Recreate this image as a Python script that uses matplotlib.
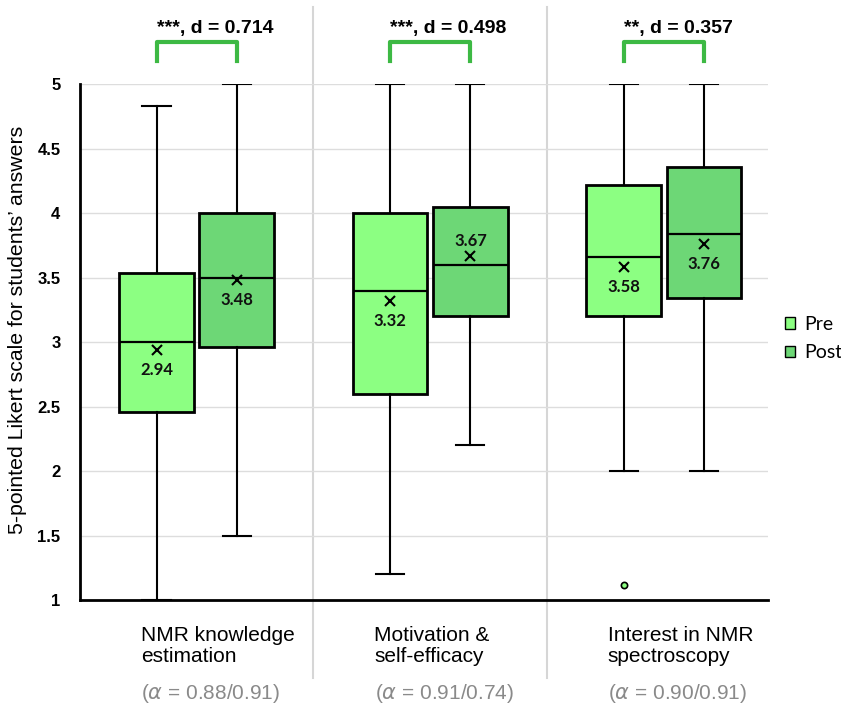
import matplotlib
matplotlib.use("Agg")
import matplotlib.pyplot as plt
from matplotlib.patches import Patch

# values
categories = ["NMR knowledge\nestimation", "Motivation &\nself-efficacy", "Interest in NMR\nspectroscopy"]
alphas = ["0.88/0.91", "0.91/0.74", "0.90/0.91"]
effects = ["***, d = 0.714", "***, d = 0.498", "**, d = 0.357"]

pre_low = [1.0, 1.2, 2.0]
pre_q1 = [2.46, 2.60, 3.20]
pre_med = [3.00, 3.40, 3.66]
pre_q3 = [3.54, 4.00, 4.22]
pre_high = [4.83, 5.0, 5.0]
pre_mean = [2.94, 3.32, 3.58]
pre_fliers = [[], [], [1.12]]

post_low = [1.5, 2.2, 2.0]
post_q1 = [2.96, 3.20, 3.34]
post_med = [3.50, 3.60, 3.84]
post_q3 = [4.00, 4.05, 4.36]
post_high = [5.0, 5.0, 5.0]
post_mean = [3.48, 3.67, 3.76]
post_fliers = [[], [], []]

pre_color = "#8cff82"
post_color = "#6dd776"
bracket_color = "#3db944"

sans = ["Liberation Sans", "DejaVu Sans"]


def make_stats(low, q1, med, q3, high, mean, fliers):
    return [dict(whislo=low[i], q1=q1[i], med=med[i], q3=q3[i], whishi=high[i],
                 mean=mean[i], fliers=fliers[i]) for i in range(len(low))]


fig = plt.figure(figsize=(8.41, 7.07), dpi=100)
ax = fig.add_axes([0.095, 0.151, 0.818, 0.73])

offset = 0.172
width = 0.32
# mean labels sit below the marker, except Post / Motivation (above)
groups = [
    (make_stats(pre_low, pre_q1, pre_med, pre_q3, pre_high, pre_mean, pre_fliers), -offset, pre_color,
     [False, False, False]),
    (make_stats(post_low, post_q1, post_med, post_q3, post_high, post_mean, post_fliers), offset, post_color,
     [False, True, False]),
]
for stats, off, col, above in groups:
    pos = [i + off for i in range(len(categories))]
    ax.bxp(stats, positions=pos, widths=width, patch_artist=True, showmeans=True,
           boxprops=dict(facecolor=col, edgecolor="black", linewidth=2),
           medianprops=dict(color="black", linewidth=1.6),
           whiskerprops=dict(color="black", linewidth=1.5),
           capprops=dict(color="black", linewidth=1.5),
           capwidths=0.12,
           meanprops=dict(marker="x", markeredgecolor="black", markersize=7, markeredgewidth=1.5),
           flierprops=dict(marker="o", markerfacecolor=pre_color, markeredgecolor="black",
                           markersize=4.5, markeredgewidth=1.2))
    for i, s in enumerate(stats):
        if above[i]:
            ax.text(i + off, s["mean"] + 0.05, f"{s['mean']:.2f}", ha="center", va="bottom",
                    fontsize=12, fontweight="bold", color="#111111", family="Lato")
        else:
            ax.text(i + off, s["mean"] - 0.09, f"{s['mean']:.2f}", ha="center", va="top",
                    fontsize=12, fontweight="bold", color="#111111", family="Lato")

ax.set_xlim(-0.5, 2.445)
ax.set_ylim(1, 5)
ax.set_yticks([1, 1.5, 2, 2.5, 3, 3.5, 4, 4.5, 5])
ax.set_yticklabels(["1", "1.5", "2", "2.5", "3", "3.5", "4", "4.5", "5"],
                   fontweight="bold", fontsize=12, family=sans)
ax.tick_params(axis="y", length=0, pad=14)
ax.set_xticks([])
ax.yaxis.grid(True, color="#dddddd", linewidth=1)
ax.set_axisbelow(True)
for side in ["top", "right"]:
    ax.spines[side].set_visible(False)
for side in ["left", "bottom"]:
    ax.spines[side].set_linewidth(2)
ax.set_ylabel("5-pointed Likert scale for students\u2019 answers", fontsize=15.3, family=sans)
ax.yaxis.set_label_coords(-0.077, 0.523)

# separators between groups
for xs in [0.5, 1.5]:
    ax.plot([xs, xs], [0.4, 5.6], color="#d6d6d6", linewidth=1.5, clip_on=False, zorder=0)

# brackets and effect sizes
for i, txt in enumerate(effects):
    x0, x1 = i - offset, i + offset
    ax.plot([x0, x0, x1, x1], [5.18, 5.33, 5.33, 5.18], color=bracket_color, linewidth=3,
            clip_on=False, solid_joinstyle="round")
    ax.text(x0, 5.43, txt, ha="left", va="center", fontsize=14, fontweight="bold", family=sans)

# category labels
for i, (cat, al) in enumerate(zip(categories, alphas)):
    ax.text(i - 0.24, 0.8, cat, ha="left", va="top", fontsize=15, linespacing=1.15, family=sans)
    ax.text(i + 0.06, 0.28, "($\\it{\u03b1}$ = " + al + ")", ha="center", va="center",
            fontsize=15, color="#8a8a8a", family=sans)

handles = [Patch(facecolor=pre_color, edgecolor="black", label="Pre"),
           Patch(facecolor=post_color, edgecolor="black", label="Post")]
fig.legend(handles=handles, loc="center left", bbox_to_anchor=(0.933, 0.521), frameon=False,
           prop=dict(family="Lato", size=14), handlelength=0.55, handleheight=0.55,
           handletextpad=0.45, labelspacing=0.6, borderpad=0, borderaxespad=0)

fig.savefig("out.png", dpi=100)
